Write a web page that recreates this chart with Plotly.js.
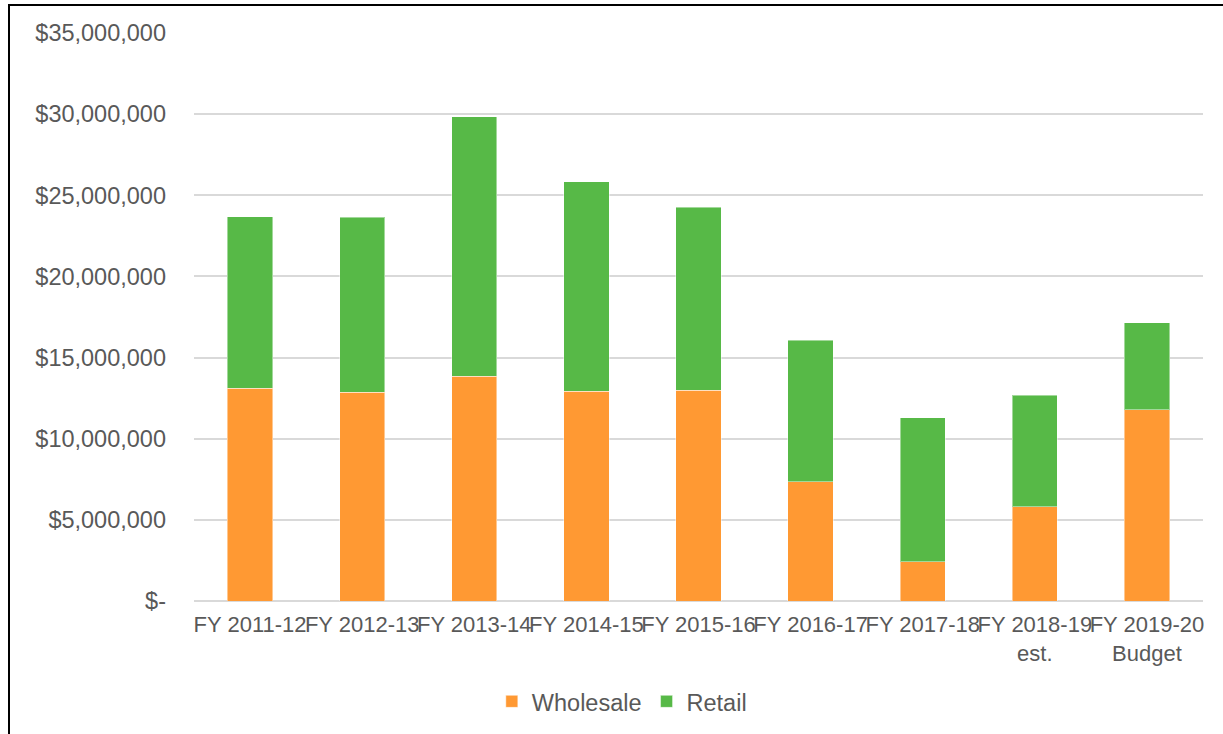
<!DOCTYPE html>
<html>
<head>
<meta charset="utf-8">
<script src="https://cdn.plot.ly/plotly-3.0.1.min.js"></script>
<style>
  html, body { margin: 0; padding: 0; background: #ffffff; overflow: hidden; }
  #chart { width: 1223px; height: 734px; }
  #frame { position: absolute; left: 8px; top: 4px; width: 1300px; height: 800px;
           border-left: 2px solid #000; border-top: 2px solid #000; pointer-events: none; }
</style>
</head>
<body>
<div id="chart"></div>
<div id="frame"></div>
<script>
const categories = [
  "FY 2011-12", "FY 2012-13", "FY 2013-14", "FY 2014-15", "FY 2015-16",
  "FY 2016-17", "FY 2017-18", "FY 2018-19<br>est.", "FY 2019-20<br>Budget"
];
const wholesale = [13120000, 12860000, 13840000, 12920000, 13000000, 7340000, 2420000, 5820000, 11770000];
const retail    = [10560000, 10780000, 16010000, 12920000, 11270000, 8720000, 8860000, 6870000, 5390000];
const yTickVals  = [0, 5000000, 10000000, 15000000, 20000000, 25000000, 30000000, 35000000];
const yTickText  = ["$-", "$5,000,000", "$10,000,000", "$15,000,000", "$20,000,000", "$25,000,000", "$30,000,000", "$35,000,000"];

const FONT = "'Liberation Sans', Arial, sans-serif";
const TXT = "#595959";

const traces = [
  {
    type: "bar", name: "Wholesale", x: categories, y: wholesale,
    marker: { color: "#FF9933", line: { color: "rgba(255,255,255,0.45)", width: 1 } },
    hoverinfo: "skip"
  },
  {
    type: "bar", name: "Retail", x: categories, y: retail,
    marker: { color: "#57B947", line: { color: "rgba(255,255,255,0.45)", width: 1 } },
    hoverinfo: "skip"
  }
];

const layout = {
  width: 1223, height: 734,
  paper_bgcolor: "#ffffff", plot_bgcolor: "#ffffff",
  barmode: "stack", bargap: 0.596,
  margin: { l: 194, r: 20, t: 33, b: 131.6, pad: 0 },
  font: { family: FONT, color: TXT },
  showlegend: true,
  legend: {
    orientation: "h", x: 0.424, xanchor: "center", y: -0.175, yanchor: "middle",
    font: { family: FONT, size: 23.5, color: TXT },
    traceorder: "normal", itemwidth: 30
  },
  xaxis: {
    type: "category", tickangle: 0, showgrid: false, zeroline: false,
    showline: false, ticks: "",
    tickfont: { family: FONT, size: 22, color: TXT },
    ticklabelstandoff: 8
  },
  yaxis: {
    range: [0, 35000000], tickvals: yTickVals, ticktext: yTickText,
    showgrid: true, gridcolor: "#D9D9D9", gridwidth: 2,
    zeroline: true, zerolinecolor: "#D9D9D9", zerolinewidth: 2,
    showline: false, ticks: "",
    tickfont: { family: FONT, size: 23.5, color: TXT },
    ticklabelstandoff: 27
  }
};

Plotly.newPlot("chart", traces, layout, { staticPlot: true, displayModeBar: false });
</script>
</body>
</html>
